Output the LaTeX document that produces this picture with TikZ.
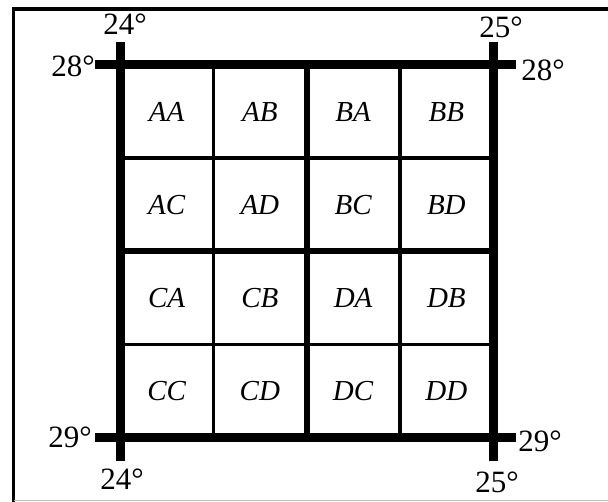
\documentclass[tikz,border=0pt]{standalone}
\usepackage{fontspec}
\setmainfont{Liberation Serif}
\tikzset{
	frame line/.style={line width=3.5pt},
	grid thick/.style={line width=9pt},
	grid mid/.style={line width=6pt},
	grid thin/.style={line width=3.5pt},
	deg/.style={font=\fontsize{31}{36}\selectfont, inner sep=0pt},
	cell/.style={font=\fontsize{29}{34}\selectfont\itshape, inner sep=0pt},
}

\begin{document}
\begin{tikzpicture}[x=1pt, y=-1pt]
	\useasboundingbox (0,0) rectangle (608,502);
	\draw[frame line] (13.5,502) -- (13.5,9) -- (608,9);
	\draw[black!25, line width=1.5pt] (13.5,500.5) -- (608,500.5);
	\foreach \p in {213.25,399.75}
		\draw[grid thin] (\p,65) -- (\p,438);
	\foreach \p in {158.25,344.75}
		\draw[grid thin] (120,\p) -- (493,\p);
	\draw[grid mid] (306.5,65) -- (306.5,438);
	\draw[grid mid] (120,251.5) -- (493,251.5);
	\draw[grid thick] (95,65) -- (516,65);
	\draw[grid thick] (95,438) -- (516,438);
	\draw[grid thick] (120,42) -- (120,461);
	\draw[grid thick] (493,42) -- (493,461);
	\foreach \name [count=\i from 0] in {AA,AB,BA,BB,AC,AD,BC,BD,CA,CB,DA,DB,CC,CD,DC,DD} {
		\pgfmathtruncatemacro{\col}{mod(\i,4)}
		\pgfmathtruncatemacro{\row}{int(\i/4)}
		\node[cell] (\name) at (166.6+93.25*\col, 111.6+93.25*\row) {\name};
	}
	\node[deg] (lontl) at (125,24) {24°};
	\node[deg] (lattl) at (73,66) {28°};
	\node[deg] (lontr) at (501,27) {25°};
	\node[deg] (lattr) at (543,70) {28°};
	\node[deg] (latbl) at (70,437) {29°};
	\node[deg] (lonbl) at (122,479) {24°};
	\node[deg] (latbr) at (540,441) {29°};
	\node[deg] (lonbr) at (497,482) {25°};
\end{tikzpicture}
\end{document}
